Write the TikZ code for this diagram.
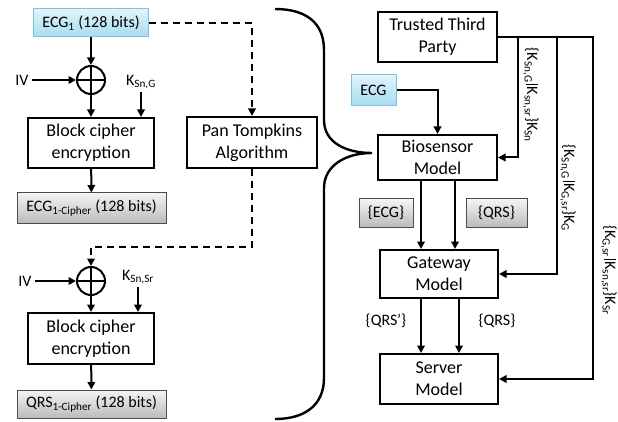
\documentclass[tikz,border=0pt]{standalone}
\usepackage{fontspec}
\setmainfont{Carlito}
\usetikzlibrary{arrows.meta}
\definecolor{bluetop}{HTML}{E2F4FB}
\definecolor{bluebot}{HTML}{A6DCF0}
\definecolor{blueedge}{HTML}{7CC3DE}
\definecolor{graytop}{HTML}{F4F4F4}
\definecolor{graybot}{HTML}{BBBBBB}
\newcommand{\keybar}{\hspace{1.5pt}\rule[-1.5pt]{1.3pt}{12.5pt}\hspace{1.5pt}}
\begin{document}
\begin{tikzpicture}[x=1pt,y=-1pt,
  box/.style={draw, line width=2pt, align=center, inner sep=0pt, font=\fontsize{18}{22}\selectfont},
  bluebox/.style={draw=blueedge, line width=1pt, top color=bluetop, bottom color=bluebot, inner sep=0pt, font=\fontsize{16}{19}\selectfont},
  graybox/.style={draw=gray!60!black, line width=1pt, top color=graytop, bottom color=graybot, inner sep=0pt, font=\fontsize{16}{19}\selectfont},
  lbl/.style={inner sep=3pt, font=\fontsize{16}{19}\selectfont},
  arr/.style={line width=2pt, -{Triangle[length=7.5pt,width=7.5pt]}},
  dsh/.style={dash pattern=on 7pt off 5pt},
  xorc/.style={circle, draw, line width=2pt, minimum size=28pt, inner sep=0pt},
]
\useasboundingbox (0,0) rectangle (618,422);

% ---------- left column, first block ----------
\node[bluebox, minimum width=115pt, minimum height=28pt] (ecg1) at (91,23) {ECG\textsubscript{1} (128 bits)};
\node[xorc] (x1) at (91,80) {};
\draw[line width=2pt] (x1.north) -- (x1.south) (x1.west) -- (x1.east);
\node[lbl] (iv1) at (22,80) {IV};
\node[lbl] (k1) at (141,82) {K\textsubscript{Sn,G}};
\node[box, minimum width=126pt, minimum height=50pt] (bc1) at (91,143) {Block cipher\\encryption};
\node[graybox, minimum width=149pt, minimum height=30pt] (c1) at (91.5,208) {ECG\textsubscript{1-Cipher} (128 bits)};
\node[box, minimum width=130pt, minimum height=51pt] (pan) at (252,142.5) {Pan Tompkins\\Algorithm};

\draw[arr] (ecg1) -- (x1);
\draw[arr] (iv1) -- (x1);
\draw[arr] (k1.south) -- (k1.south |- bc1.north);
\draw[arr] (x1) -- (bc1);
\draw[arr] (bc1) -- (c1);
\draw[arr, dsh] (ecg1) -| (pan);

% ---------- left column, second block ----------
\node[xorc] (x2) at (91,281) {};
\draw[line width=2pt] (x2.north) -- (x2.south) (x2.west) -- (x2.east);
\node[lbl] (iv2) at (25,281) {IV};
\node[lbl] (k2) at (138,277) {K\textsubscript{Sn,Sr}};
\node[box, minimum width=126pt, minimum height=51pt] (bc2) at (91,338.5) {Block cipher\\encryption};
\node[graybox, minimum width=149pt, minimum height=28pt] (c2) at (91.5,404) {QRS\textsubscript{1-Cipher} (128 bits)};

\coordinate (bend) at (91,247);
\draw[arr, dsh] (pan) |- (bend) -- (x2);
\draw[arr] (iv2) -- (x2);
\draw[arr] (k2.south) -- (k2.south |- bc2.north);
\draw[arr] (x2) -- (bc2);
\draw[arr] (bc2) -- (c2);

% ---------- brace ----------
\draw[line width=2.4pt] (275,9) .. controls (305,9) and (324,22) .. (324,50)
  -- (324,120) .. controls (324,142) and (345,153) .. (372,153)
  .. controls (345,153) and (324,166) .. (324,188)
  -- (324,378) .. controls (324,405) and (305,419) .. (275,419);

% ---------- right side ----------
\node[box, minimum width=119pt, minimum height=50pt] (ttp) at (437.5,37) {Trusted Third\\Party};
\node[bluebox, minimum width=45pt, minimum height=31pt] (ecg) at (373.5,90) {ECG};
\node[box, minimum width=119pt, minimum height=45pt] (bio) at (437.5,157.5) {Biosensor\\Model};
\node[graybox, minimum width=54pt, minimum height=28pt] (ge) at (386,213) {\{ECG\}};
\node[graybox, minimum width=61pt, minimum height=28pt] (gq) at (496.5,213) {\{QRS\}};
\node[box, minimum width=118pt, minimum height=48pt] (gw) at (439,274) {Gateway\\Model};
\node[box, minimum width=118pt, minimum height=50pt] (srv) at (439,379) {Server\\Model};
\node[lbl] (lq1) at (386,321) {\{QRS’\}};
\node[lbl] (lq2) at (497,321) {\{QRS\}};

\draw[arr] (ecg) -| (bio);
\draw[arr] ([xshift=-16.5pt]bio.south) -- ([xshift=-16.5pt]bio.south |- gw.north);
\draw[arr] ([xshift=17.5pt]bio.south) -- ([xshift=17.5pt]bio.south |- gw.north);
\draw[arr] ([xshift=-18pt]gw.south) -- ([xshift=-18pt]gw.south |- srv.north);
\draw[arr] ([xshift=20pt]gw.south) -- ([xshift=20pt]gw.south |- srv.north);

\coordinate (t1) at (518,37);
\coordinate (t2) at (557,37);
\coordinate (t3) at (593,37);
\draw[arr] (ttp.east) -- (t1) |- (bio.east);
\draw[arr] (ttp.east) -- (t2) |- (gw.east);
\draw[arr] (ttp.east) -- (t3) |- (srv.east);

\node[lbl, rotate=-90] (r1) at (531,95) {\{K\textsubscript{Sn,G}\keybar K\textsubscript{sn,sr}\}K\textsubscript{Sn}};
\node[lbl, rotate=-90] (r2) at (568,188) {\{K\textsubscript{Sn,G}\keybar K\textsubscript{G,sr}\}K\textsubscript{G}};
\node[lbl, rotate=-90] (r3) at (609,270) {\{K\textsubscript{G,sr}\keybar K\textsubscript{sn,sr}\}K\textsubscript{Sr}};
\end{tikzpicture}
\end{document}
